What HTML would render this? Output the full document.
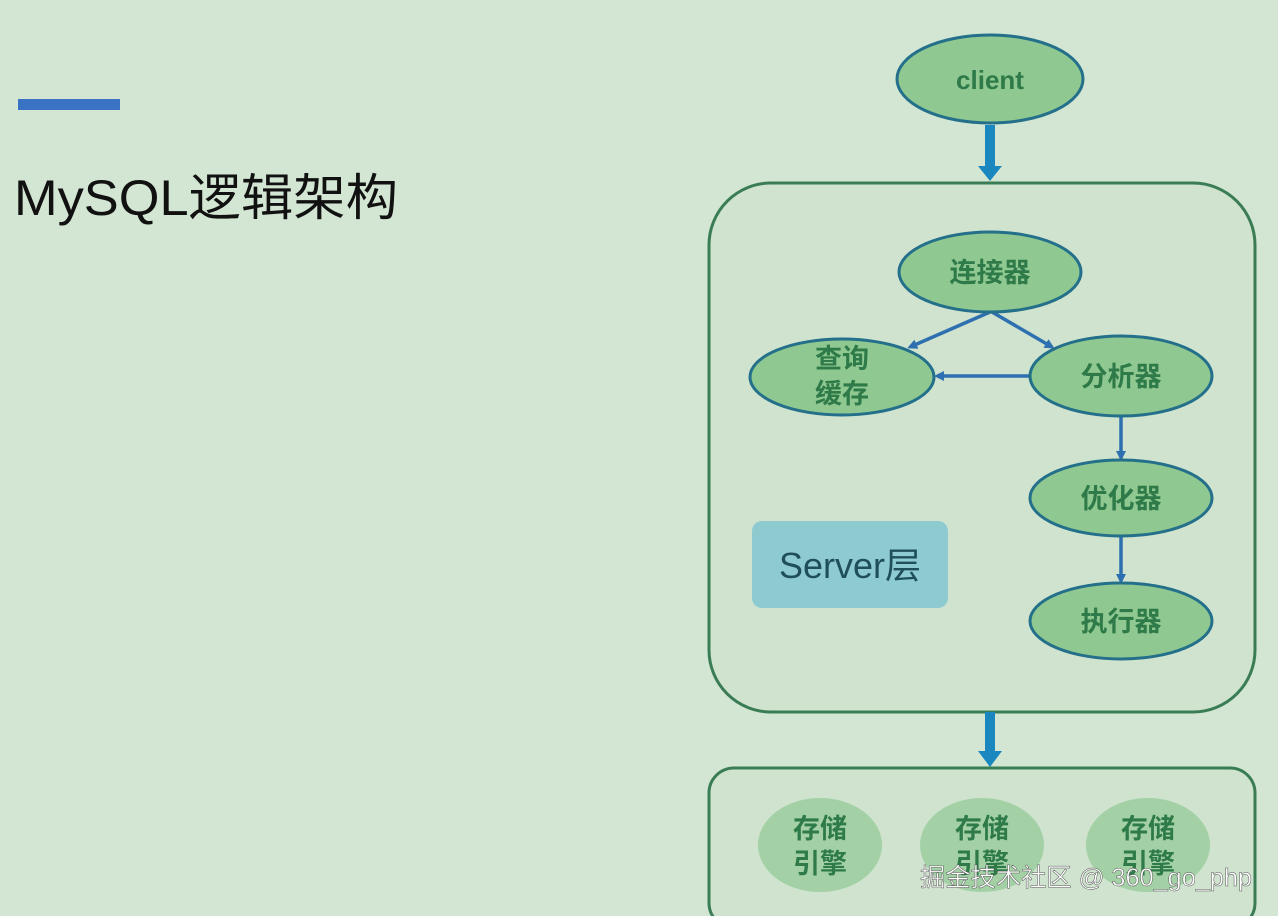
<!DOCTYPE html>
<html><head><meta charset="utf-8"><style>
body{margin:0;width:1278px;height:916px;overflow:hidden;background:#d3e6d3;font-family:"Liberation Sans","Noto Sans CJK SC",sans-serif}
</style></head><body>
<svg width="1278" height="916" xmlns="http://www.w3.org/2000/svg" style="position:absolute;left:0;top:0">
<defs>
<marker id="a" markerWidth="10" markerHeight="10" refX="7" refY="5" orient="auto" markerUnits="userSpaceOnUse"><path d="M0,0 L10,5 L0,10 z" fill="#2e6fb0"/></marker>
</defs>
<rect x="18" y="99" width="102" height="11" fill="#3a73c4"/>
<text x="14" y="215" font-size="50" fill="#111" textLength="384" lengthAdjust="spacingAndGlyphs" font-family="Liberation Sans,Noto Sans CJK SC,sans-serif">MySQL逻辑架构</text>
<g font-family="Liberation Sans,Noto Sans CJK SC,sans-serif" font-weight="bold" fill="#2e7a48" text-anchor="middle">
<ellipse cx="990" cy="79" rx="93" ry="44" fill="#8fc890" stroke="#24708a" stroke-width="3"/>
<text x="990" y="89" font-size="26">client</text>
<rect x="985" y="125" width="10" height="43" fill="#1a87be"/>
<path d="M978,166 L1002,166 L990,181 z" fill="#1a87be"/>
<rect x="709" y="183" width="546" height="529" rx="62" fill="#cfe3cf" stroke="#3a7d55" stroke-width="3"/>
<g stroke="#2e6fb0" stroke-width="3.5" fill="none">
<line x1="990" y1="312" x2="910" y2="347" marker-end="url(#a)"/>
<line x1="992" y1="312" x2="1052" y2="347" marker-end="url(#a)"/>
<line x1="1030" y1="376" x2="937" y2="376" marker-end="url(#a)"/>
<line x1="1121" y1="416" x2="1121" y2="458" marker-end="url(#a)"/>
<line x1="1121" y1="536" x2="1121" y2="581" marker-end="url(#a)"/>
</g>
<ellipse cx="990" cy="272" rx="91" ry="40" fill="#8fc890" stroke="#24708a" stroke-width="3"/>
<text x="990" y="282" font-size="27">连接器</text>
<ellipse cx="842" cy="377" rx="92" ry="38" fill="#8fc890" stroke="#24708a" stroke-width="3"/>
<text x="842" y="368" font-size="27">查询</text>
<text x="842" y="403" font-size="27">缓存</text>
<ellipse cx="1121" cy="376" rx="91" ry="40" fill="#8fc890" stroke="#24708a" stroke-width="3"/>
<text x="1121" y="386" font-size="27">分析器</text>
<ellipse cx="1121" cy="498" rx="91" ry="38" fill="#8fc890" stroke="#24708a" stroke-width="3"/>
<text x="1121" y="508" font-size="27">优化器</text>
<ellipse cx="1121" cy="621" rx="91" ry="38" fill="#8fc890" stroke="#24708a" stroke-width="3"/>
<text x="1121" y="631" font-size="27">执行器</text>
<rect x="752" y="521" width="196" height="87" rx="10" fill="#8ecbd0"/>
<text x="850" y="578" font-size="36" font-weight="normal" fill="#1f4f5a">Server层</text>
<rect x="985" y="712" width="10" height="41" fill="#1a87be"/>
<path d="M978,751 L1002,751 L990,767 z" fill="#1a87be"/>
<rect x="709" y="768" width="546" height="160" rx="25" fill="#cfe3cf" stroke="#3a7d55" stroke-width="3"/>
<ellipse cx="820" cy="845" rx="62" ry="47" fill="#a3d1a5"/>
<ellipse cx="982" cy="845" rx="62" ry="47" fill="#a3d1a5"/>
<ellipse cx="1148" cy="845" rx="62" ry="47" fill="#a3d1a5"/>
<text x="820" y="838" font-size="27">存储</text><text x="820" y="873" font-size="27">引擎</text>
<text x="982" y="838" font-size="27">存储</text><text x="982" y="873" font-size="27">引擎</text>
<text x="1148" y="838" font-size="27">存储</text><text x="1148" y="873" font-size="27">引擎</text>
</g>
<text x="920" y="886" font-size="25" fill="#fff" textLength="332" lengthAdjust="spacingAndGlyphs" font-family="Liberation Sans,Noto Sans CJK SC,sans-serif" stroke="#555" stroke-width="0.5">掘金技术社区 @ 360_go_php</text>
</svg>
</body></html>
